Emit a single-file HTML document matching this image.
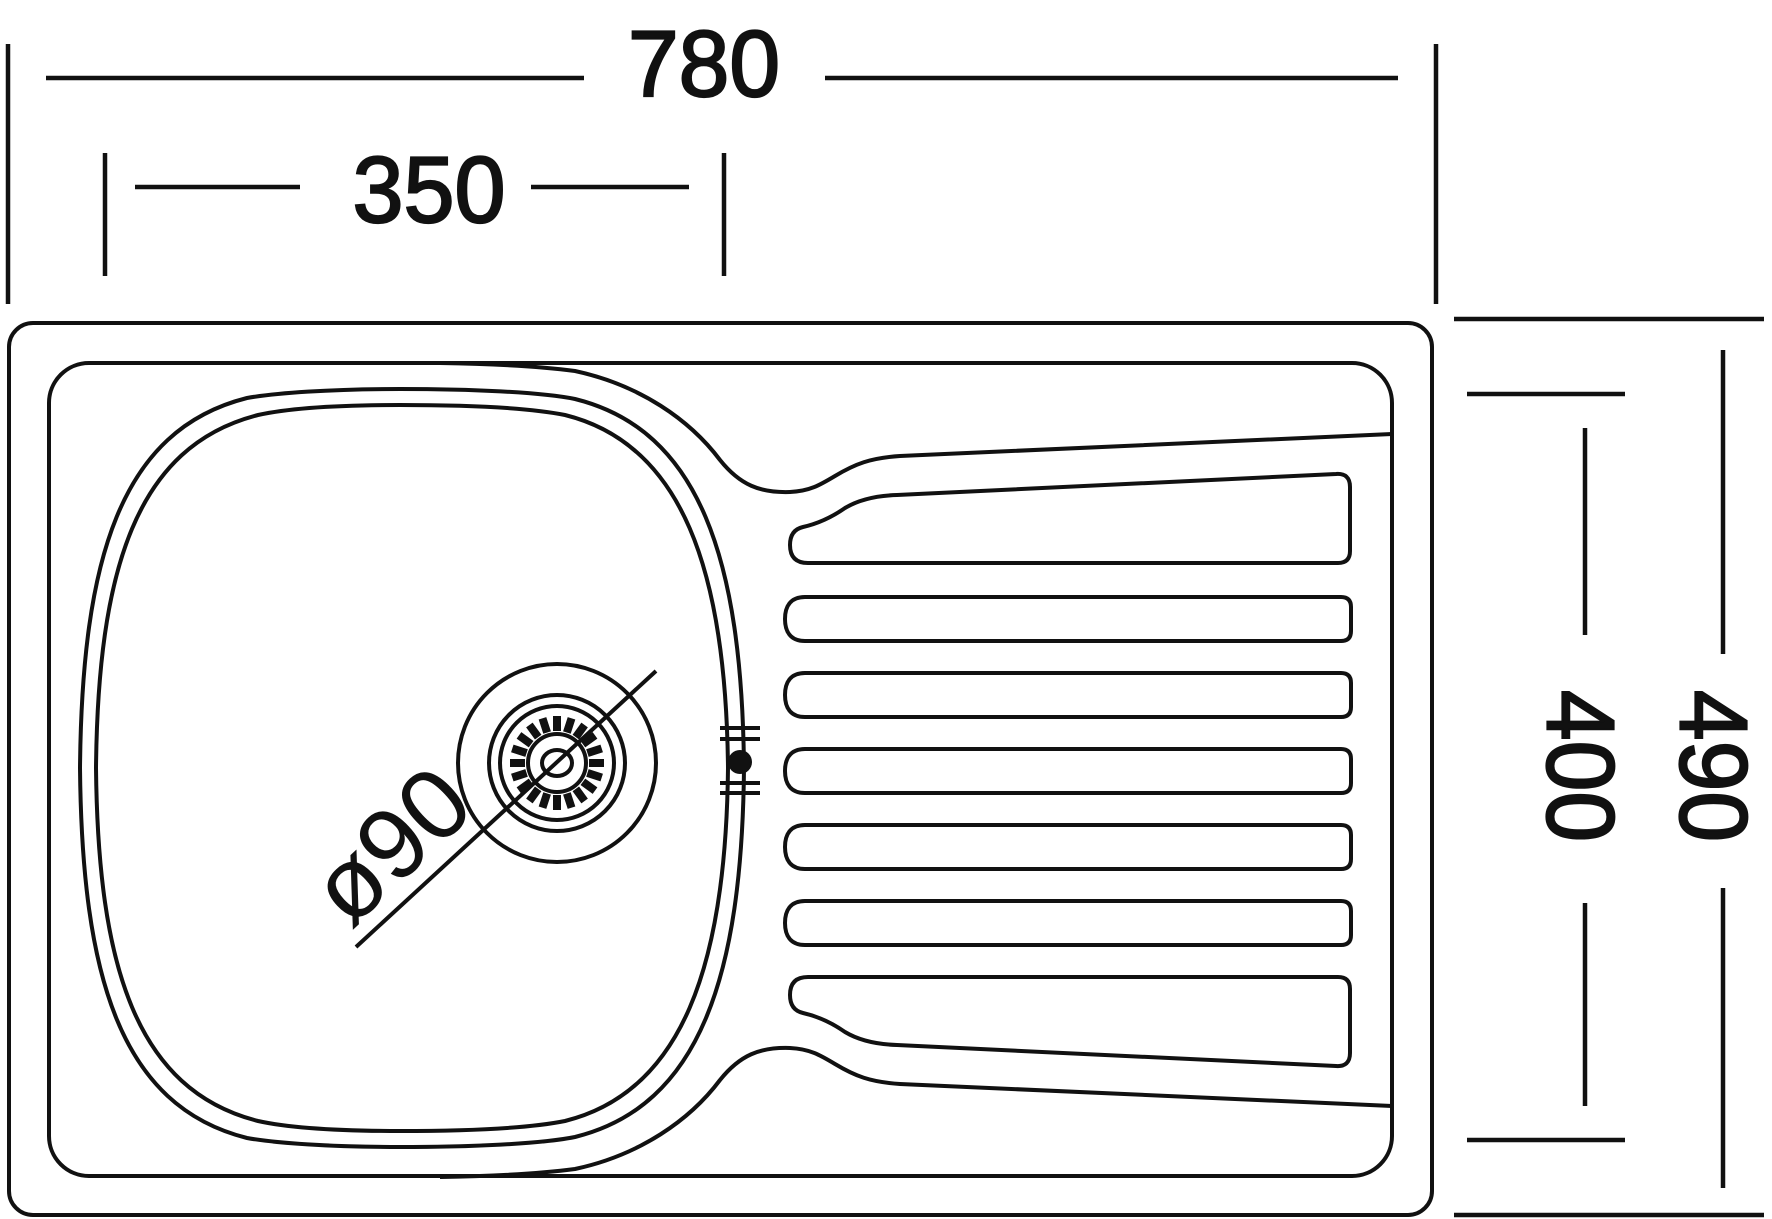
<!DOCTYPE html>
<html><head><meta charset="utf-8"><style>
html,body{margin:0;padding:0;background:#fff;}
svg{display:block;}
text{font-family:"Liberation Sans",sans-serif;fill:#111;}
.dim{stroke:#111;stroke-width:2.2;}
</style></head><body>
<svg width="1772" height="1219" viewBox="0 0 1772 1219" xmlns="http://www.w3.org/2000/svg">
<g stroke="#111" stroke-width="4.5" fill="none">
  <line x1="8" y1="44" x2="8" y2="304"/>
  <line x1="1436" y1="44" x2="1436" y2="304"/>
  <line x1="46" y1="78" x2="584" y2="78"/>
  <line x1="825" y1="78" x2="1398" y2="78"/>
  <line x1="105" y1="153" x2="105" y2="276"/>
  <line x1="724" y1="153" x2="724" y2="276"/>
  <line x1="135" y1="187" x2="300" y2="187"/>
  <line x1="531" y1="187" x2="689" y2="187"/>
  <line x1="1454" y1="319" x2="1764" y2="319"/>
  <line x1="1454" y1="1215" x2="1764" y2="1215"/>
  <line x1="1723" y1="350" x2="1723" y2="654"/>
  <line x1="1723" y1="888" x2="1723" y2="1188"/>
  <line x1="1467" y1="394" x2="1625" y2="394"/>
  <line x1="1467" y1="1140" x2="1625" y2="1140"/>
  <line x1="1585" y1="428" x2="1585" y2="635"/>
  <line x1="1585" y1="903" x2="1585" y2="1106"/>
</g>
<text class="dim" x="704" y="96" font-size="94" text-anchor="middle" textLength="152" lengthAdjust="spacingAndGlyphs">780</text>
<text class="dim" x="429" y="222" font-size="94" text-anchor="middle" textLength="153" lengthAdjust="spacingAndGlyphs">350</text>
<text class="dim" transform="translate(1713,766) rotate(90)" font-size="96" text-anchor="middle" dominant-baseline="central" textLength="152" lengthAdjust="spacingAndGlyphs">490</text>
<text class="dim" transform="translate(1580,766) rotate(90)" font-size="96" text-anchor="middle" dominant-baseline="central" textLength="152" lengthAdjust="spacingAndGlyphs">400</text>

<g stroke="#111" stroke-width="4" fill="none">
  <rect x="9" y="323" width="1423" height="892" rx="24"/>
  <rect x="49" y="363" width="1343" height="813" rx="40"/>
  <path d="M 440 363 C 500 364 545 367 575 371 C 640 385 690 420 720 460 C 740 485 760 493 790 492 C 810 491 820 485 835 476 C 855 464 870 458 900 456 L 1392 434"/>
  <path d="M 440 1177 C 500 1176 545 1173 575 1169 C 640 1155 690 1120 720 1080 C 740 1055 760 1047 790 1048 C 810 1049 820 1055 835 1064 C 855 1076 870 1082 900 1084 L 1392 1106"/>
  <path d="M 400 389 C 470 389 540 392 575 399 C 700 430 742 560 744 768 C 742 976 700 1106 575 1137 C 540 1144 470 1147 400 1147 C 330 1147 275 1143 247 1138 C 120 1106 82 976 80 768 C 82 560 120 430 247 398 C 275 393 330 389 400 389 Z"/>
  <path d="M 400 405 C 470 405 530 408 565 415 C 682 444 726 570 728 768 C 726 966 682 1092 565 1121 C 530 1128 470 1131 400 1131 C 330 1131 285 1127 258 1121 C 136 1090 98 966 96 768 C 98 570 136 446 258 415 C 285 409 330 405 400 405 Z"/>
  <path d="M 897 495 L 1336 474 Q 1350 473 1350 487 L 1350 551 Q 1350 563 1338 563 L 808 563 Q 790 563 790 545 Q 790 530 803 527 Q 825 522 845 508 Q 865 496 897 495 Z"/>
  <path d="M 897 1045 L 1336 1066 Q 1350 1067 1350 1053 L 1350 989 Q 1350 977 1338 977 L 808 977 Q 790 977 790 995 Q 790 1010 803 1013 Q 825 1018 845 1032 Q 865 1044 897 1045 Z"/>
  <path d="M 805 597 L 1341 597 Q 1351 597 1351 607 L 1351 631 Q 1351 641 1341 641 L 805 641 C 790 641 785 631 785 619 C 785 607 790 597 805 597 Z"/>
  <path d="M 805 673 L 1341 673 Q 1351 673 1351 683 L 1351 707 Q 1351 717 1341 717 L 805 717 C 790 717 785 707 785 695 C 785 683 790 673 805 673 Z"/>
  <path d="M 805 749 L 1341 749 Q 1351 749 1351 759 L 1351 783 Q 1351 793 1341 793 L 805 793 C 790 793 785 783 785 771 C 785 759 790 749 805 749 Z"/>
  <path d="M 805 825 L 1341 825 Q 1351 825 1351 835 L 1351 859 Q 1351 869 1341 869 L 805 869 C 790 869 785 859 785 847 C 785 835 790 825 805 825 Z"/>
  <path d="M 805 901 L 1341 901 Q 1351 901 1351 911 L 1351 935 Q 1351 945 1341 945 L 805 945 C 790 945 785 935 785 923 C 785 911 790 901 805 901 Z"/>
  <circle cx="557" cy="763" r="99"/>
  <circle cx="557" cy="763" r="68"/>
  <circle cx="557" cy="763" r="57"/>
  <circle cx="557" cy="763" r="29"/>
  <ellipse cx="557" cy="763" rx="15" ry="13"/>
  <line x1="356" y1="947" x2="656" y2="671"/>
  <line x1="720" y1="728" x2="760" y2="728"/>
  <line x1="720" y1="739" x2="760" y2="739"/>
  <line x1="720" y1="783" x2="760" y2="783"/>
  <line x1="720" y1="793" x2="760" y2="793"/>
</g>
<circle cx="740" cy="762" r="12" fill="#111"/>
<g stroke="#111" stroke-width="8" transform="translate(557,763)">
  <line x1="0" y1="-32" x2="0" y2="-47" transform="rotate(0)"/>
  <line x1="0" y1="-32" x2="0" y2="-47" transform="rotate(18)"/>
  <line x1="0" y1="-32" x2="0" y2="-47" transform="rotate(36)"/>
  <line x1="0" y1="-32" x2="0" y2="-47" transform="rotate(54)"/>
  <line x1="0" y1="-32" x2="0" y2="-47" transform="rotate(72)"/>
  <line x1="0" y1="-32" x2="0" y2="-47" transform="rotate(90)"/>
  <line x1="0" y1="-32" x2="0" y2="-47" transform="rotate(108)"/>
  <line x1="0" y1="-32" x2="0" y2="-47" transform="rotate(126)"/>
  <line x1="0" y1="-32" x2="0" y2="-47" transform="rotate(144)"/>
  <line x1="0" y1="-32" x2="0" y2="-47" transform="rotate(162)"/>
  <line x1="0" y1="-32" x2="0" y2="-47" transform="rotate(180)"/>
  <line x1="0" y1="-32" x2="0" y2="-47" transform="rotate(198)"/>
  <line x1="0" y1="-32" x2="0" y2="-47" transform="rotate(216)"/>
  <line x1="0" y1="-32" x2="0" y2="-47" transform="rotate(234)"/>
  <line x1="0" y1="-32" x2="0" y2="-47" transform="rotate(252)"/>
  <line x1="0" y1="-32" x2="0" y2="-47" transform="rotate(270)"/>
  <line x1="0" y1="-32" x2="0" y2="-47" transform="rotate(288)"/>
  <line x1="0" y1="-32" x2="0" y2="-47" transform="rotate(306)"/>
  <line x1="0" y1="-32" x2="0" y2="-47" transform="rotate(324)"/>
  <line x1="0" y1="-32" x2="0" y2="-47" transform="rotate(342)"/>
</g>
<text transform="translate(350,930) rotate(-43)" font-size="100" textLength="175" lengthAdjust="spacingAndGlyphs">ø90</text>
</svg>
</body></html>
